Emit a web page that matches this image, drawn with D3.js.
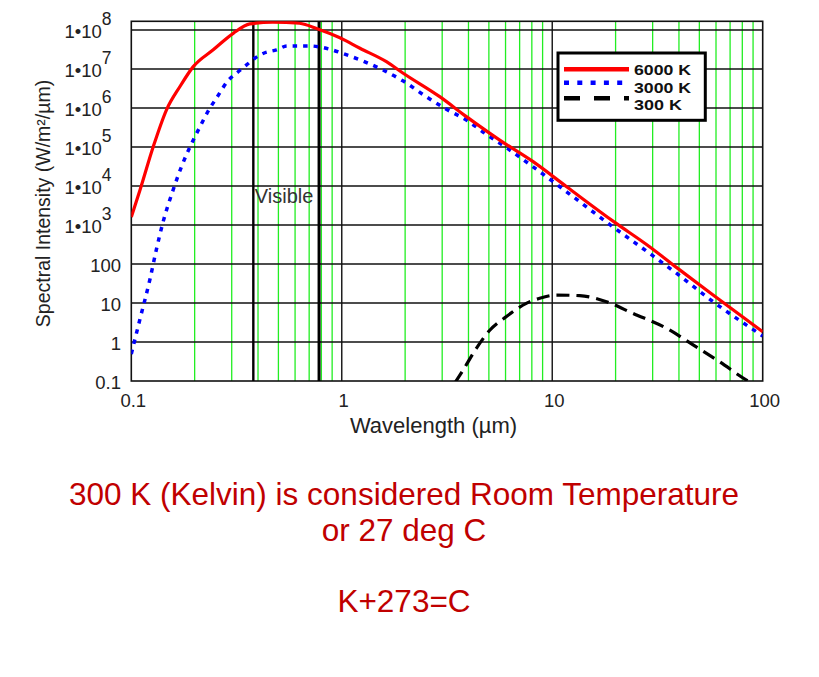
<!DOCTYPE html>
<html>
<head>
<meta charset="utf-8">
<script src="https://cdn.jsdelivr.net/npm/d3@7"></script>
<style>
  html, body { margin: 0; padding: 0; background: #fff; }
  svg { display: block; }
  text { font-family: "Liberation Sans", Arial, sans-serif; }
</style>
</head>
<body>
<div id="chart"></div>
<script>
// ---------- data ----------
const wl6000 = [0.1, 0.11, 0.127, 0.147, 0.17, 0.197, 0.245, 0.305, 0.366, 0.47, 0.63, 0.77, 0.98, 1.22, 1.63, 1.95, 2.92, 3.91, 5.63, 8.11, 11.7, 19.6, 29, 38.9, 58.1, 100];
const in6000 = [1.6e3, 7.9e3, 1.0e5, 9.0e5, 3.5e6, 1.15e7, 3.1e7, 8.2e7, 1.43e8, 1.6e8, 1.49e8, 1.06e8, 6.3e7, 3.4e7, 1.54e7, 7.9e6, 1.95e6, 6.0e5, 1.5e5, 4.2e4, 9.6e3, 1.22e3, 278, 82, 16, 1.84];

const wl3000 = [0.1, 0.11, 0.1227, 0.1317, 0.1416, 0.158, 0.173, 0.19, 0.212, 0.236, 0.254, 0.288, 0.322, 0.353, 0.386, 0.423, 0.49, 0.55, 0.70, 0.88, 1.01, 1.26, 1.57, 1.96, 2.52, 3.14, 3.91, 4.87, 6.06, 8.11, 11.7, 19.4, 29, 38.9, 58.1, 100];
const in3000 = [0.49, 3.9, 41, 240, 1.2e3, 7.9e3, 3.1e4, 1.0e5, 3.3e5, 9.8e5, 1.8e6, 5.0e6, 8.5e6, 1.27e7, 1.88e7, 2.5e7, 3.1e7, 3.9e7, 3.9e7, 3.2e7, 2.5e7, 1.6e7, 9.4e6, 4.9e6, 1.95e6, 9.3e5, 4.9e5, 2.1e5, 9.6e4, 3.1e4, 7.1e3, 900, 188, 58, 10.8, 1.43];

const wl300 = [3.45, 3.77, 4.36, 5.05, 6.06, 7.53, 8.72, 10.5, 13.5, 18.1, 24.2, 34.9, 46.7, 62.5, 83.7, 90];
const in300 = [0.09, 0.19, 0.69, 2.0, 4.5, 9.8, 13.2, 16, 15.4, 10.8, 5.4, 2.25, 0.84, 0.31, 0.106, 0.085];

const seriesNames = ["6000 K", "3000 K", "300 K"];
const seriesColors = ["#ff0000", "#0000ff", "#000000"];

const xMajor = [0.1, 1, 10, 100];
const xTickLabels = ["0.1", "1", "10", "100"];
const xMinorMult = [2, 3, 4, 5, 6, 7, 8, 9];
const yMajor = [0.1, 1, 10, 100, 1e3, 1e4, 1e5, 1e6, 1e7, 1e8];
const yTickLabels = ["0.1", "1", "10", "100", "3", "4", "5", "6", "7", "8"]; // exponent shown for >= 1e3
const visibleBounds = [0.38, 0.78];
const yTopValue = 1.67e8;

const noteLines = ["300 K (Kelvin) is considered Room Temperature", "or 27 deg C", "K+273=C"];

// ---------- drawing ----------
const W = 819, H = 677;
const svg = d3.select("#chart").append("svg").attr("width", W).attr("height", H);
svg.append("rect").attr("width", W).attr("height", H).attr("fill", "#fff");

const x = d3.scaleLog().domain([0.1, 100]).range([131.3, 762.7]);
const y = d3.scaleLog().domain([0.1, yTopValue]).range([381, 21.3]);
const [x0, x1] = x.range();
const [yB, yT] = y.range();

const grid = svg.append("g");
// green minor verticals
const minors = [];
[0.1, 1, 10].forEach(d => xMinorMult.forEach(k => minors.push(d * k)));
grid.selectAll("line.minor").data(minors).join("line")
  .attr("x1", d => x(d)).attr("x2", d => x(d))
  .attr("y1", yT).attr("y2", yB)
  .attr("stroke", "#22ee22").attr("stroke-width", 1.3);

// black horizontals
grid.selectAll("line.h").data(yMajor.slice(1)).join("line")
  .attr("x1", x0).attr("x2", x1)
  .attr("y1", d => y(d)).attr("y2", d => y(d))
  .attr("stroke", "#111").attr("stroke-width", 1.4);
// black major verticals
grid.selectAll("line.v").data(xMajor.slice(1, 3)).join("line")
  .attr("x1", d => x(d)).attr("x2", d => x(d))
  .attr("y1", yT).attr("y2", yB)
  .attr("stroke", "#111").attr("stroke-width", 1.4);
// frame
grid.append("rect").attr("x", x0).attr("y", yT).attr("width", x1 - x0).attr("height", yB - yT)
  .attr("fill", "none").attr("stroke", "#111").attr("stroke-width", 1.6);
// visible bounds
grid.selectAll("line.vis").data(visibleBounds).join("line")
  .attr("x1", d => x(d)).attr("x2", d => x(d))
  .attr("y1", yT).attr("y2", yB)
  .attr("stroke", "#000").attr("stroke-width", (d, i) => i === 0 ? 2.4 : 3);

svg.append("text").attr("x", x(visibleBounds[0]) + 1.5).attr("y", 203.3)
  .attr("font-size", 20).attr("fill", "#333").text("Visible");

// clip
svg.append("clipPath").attr("id", "plotclip").append("rect")
  .attr("x", x0).attr("y", yT).attr("width", x1 - x0).attr("height", yB - yT);

const line = d3.line().x(d => x(d[0])).y(d => y(d[1])).curve(d3.curveMonotoneX);
const curves = svg.append("g").attr("clip-path", "url(#plotclip)");

curves.append("path").datum(d3.zip(wl300, in300)).attr("d", line)
  .attr("fill", "none").attr("stroke", seriesColors[2]).attr("stroke-width", 3.2)
  .attr("stroke-dasharray", "13,7");
curves.append("path").datum(d3.zip(wl3000, in3000)).attr("d", line)
  .attr("fill", "none").attr("stroke", seriesColors[1]).attr("stroke-width", 3.5)
  .attr("stroke-dasharray", "4.5,6");
curves.append("path").datum(d3.zip(wl6000, in6000)).attr("d", line)
  .attr("fill", "none").attr("stroke", seriesColors[0]).attr("stroke-width", 3.2);

// y tick labels
const yl = svg.append("g").attr("font-size", 18.5).attr("fill", "#222");
yMajor.forEach((v, i) => {
  const t = yl.append("text").attr("y", y(v) + 7.8).attr("text-anchor", "end");
  if (v >= 1000) {
    t.attr("x", 111.5);
    t.append("tspan").text("1\u202210");
    t.append("tspan").attr("font-size", 17.5).attr("dy", -13).text(yTickLabels[i]);
  } else {
    t.attr("x", 121).text(yTickLabels[i]);
  }
});

// x tick labels
svg.append("g").attr("font-size", 18.5).attr("fill", "#222")
  .selectAll("text").data(xMajor).join("text")
  .attr("x", d => x(d) + 2).attr("y", 407).attr("text-anchor", "middle")
  .text((d, i) => xTickLabels[i]);

// axis titles
svg.append("text").attr("x", 433.5).attr("y", 432.5).attr("text-anchor", "middle")
  .attr("font-size", 22).attr("fill", "#222").text("Wavelength (\u00b5m)");
svg.append("text").attr("transform", "translate(50,203.5) rotate(-90)")
  .attr("text-anchor", "middle").attr("font-size", 19.5).attr("fill", "#222")
  .text("Spectral Intensity (W/m\u00b2/\u00b5m)");

// legend
const lg = svg.append("g");
lg.append("rect").attr("x", 558).attr("y", 53).attr("width", 147.3).attr("height", 67.3)
  .attr("fill", "#fff").attr("stroke", "#000").attr("stroke-width", 3);
const legY = [69.3, 82.7, 98.3];
const legDash = [null, "5,8.3", "16,14"];
const legTextY = [75, 92.5, 110];
const legTextLen = [57, 57, 48];
seriesNames.forEach((n, i) => {
  lg.append("line").attr("x1", 564).attr("x2", 629).attr("y1", legY[i]).attr("y2", legY[i])
    .attr("stroke", seriesColors[i]).attr("stroke-width", 4.5)
    .attr("stroke-dasharray", legDash[i]);
  lg.append("text").attr("x", 634).attr("y", legTextY[i])
    .attr("font-size", 15.5).attr("font-weight", "bold").attr("fill", "#111")
    .attr("textLength", legTextLen[i]).attr("lengthAdjust", "spacingAndGlyphs").text(n);
});

// bottom note
const noteY = [505, 540.7, 611.7];
svg.append("g").attr("font-size", 31.5).attr("fill", "#c00000").attr("text-anchor", "middle")
  .selectAll("text").data(noteLines).join("text")
  .attr("x", 404).attr("y", (d, i) => noteY[i]).text(d => d);
</script>
</body>
</html>
